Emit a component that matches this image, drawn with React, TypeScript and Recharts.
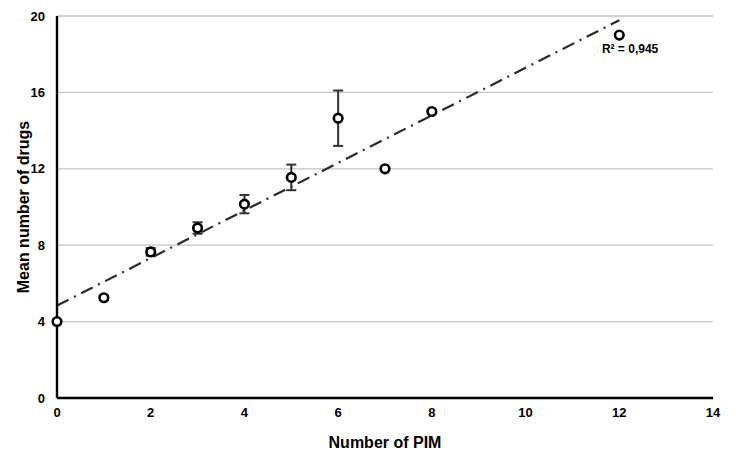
import React from "react";
import {
  ScatterChart,
  Scatter,
  XAxis,
  YAxis,
  CartesianGrid,
  ErrorBar,
  ReferenceLine,
  ReferenceDot,
} from "recharts";

const pimCounts = [0, 1, 2, 3, 4, 5, 6, 7, 8, 12];
const meanDrugs = [4.0, 5.25, 7.65, 8.9, 10.15, 11.55, 14.65, 12.0, 15.0, 19.0];
const errors = [0, 0.12, 0.2, 0.3, 0.48, 0.67, 1.45, 0, 0, 0];
const xTicks = [0, 2, 4, 6, 8, 10, 12, 14];
const yTicks = [0, 4, 8, 12, 16, 20];
const rSquaredLabel = "R² = 0,945";

const data = pimCounts.map((x, i) => ({ x, y: meanDrugs[i], err: errors[i] }));

// least-squares trend line through the points
const n = pimCounts.length;
const mx = pimCounts.reduce((a, b) => a + b, 0) / n;
const my = meanDrugs.reduce((a, b) => a + b, 0) / n;
let sxy = 0;
let sxx = 0;
pimCounts.forEach((x, i) => {
  sxy += (x - mx) * (meanDrugs[i] - my);
  sxx += (x - mx) * (x - mx);
});
const slope = sxy / sxx;
const intercept = my - slope * mx;
const trendStart = 0;
const trendEnd = 12;

const font = "'Liberation Sans', Arial, sans-serif";

const Marker = (props: any) => {
  const { cx, cy } = props;
  return <circle cx={cx} cy={cy} r={4.3} fill="#fff" stroke="#000" strokeWidth={2.6} />;
};

export default function App() {
  return (
    <div style={{ position: "absolute", left: 0, top: 0, fontFamily: font }}>
      <ScatterChart
        width={744}
        height={460}
        margin={{ top: 16, right: 31, left: 0, bottom: 0 }}
      >
        <CartesianGrid vertical={false} stroke="#c4c4c4" strokeWidth={1.3} />
        <XAxis
          type="number"
          dataKey="x"
          domain={[0, 14]}
          ticks={xTicks}
          height={62}
          tickLine={false}
          tickSize={6}
          tickMargin={4}
          axisLine={{ stroke: "#000", strokeWidth: 2.4 }}
          tick={{ fill: "#000", fontSize: 13, fontWeight: 700, fontFamily: font }}
          label={{
            value: "Number of PIM",
            position: "insideBottom",
            offset: 12,
            fill: "#000",
            fontSize: 16,
            fontWeight: 700,
            fontFamily: font,
          }}
        />
        <YAxis
          type="number"
          dataKey="y"
          domain={[0, 20]}
          ticks={yTicks}
          width={57}
          tickLine={false}
          tickSize={6}
          tickMargin={6}
          axisLine={{ stroke: "#000", strokeWidth: 2.4 }}
          tick={{ fill: "#000", fontSize: 13, fontWeight: 700, fontFamily: font }}
          label={{
            value: "Mean number of drugs",
            angle: -90,
            position: "center",
            dx: -5,
            fill: "#000",
            fontSize: 16,
            fontWeight: 700,
            fontFamily: font,
          }}
        />
        <ReferenceLine
          segment={[
            { x: trendStart, y: intercept + slope * trendStart },
            { x: trendEnd, y: intercept + slope * trendEnd },
          ]}
          stroke="#2b2b2b"
          strokeWidth={2.2}
          strokeDasharray="13 6 2 6"
          ifOverflow="visible"
        />
        <Scatter data={data} shape={<Marker />} isAnimationActive={false}>
          <ErrorBar
            dataKey="err"
            direction="y"
            width={5}
            stroke="#333"
            strokeWidth={2}
          />
        </Scatter>
        <ReferenceDot
          x={12.23}
          y={18.27}
          r={0}
          ifOverflow="visible"
          label={{
            value: rSquaredLabel,
            position: "center",
            fill: "#000",
            fontSize: 12,
            fontWeight: 700,
            fontFamily: font,
          }}
        />
      </ScatterChart>
    </div>
  );
}
